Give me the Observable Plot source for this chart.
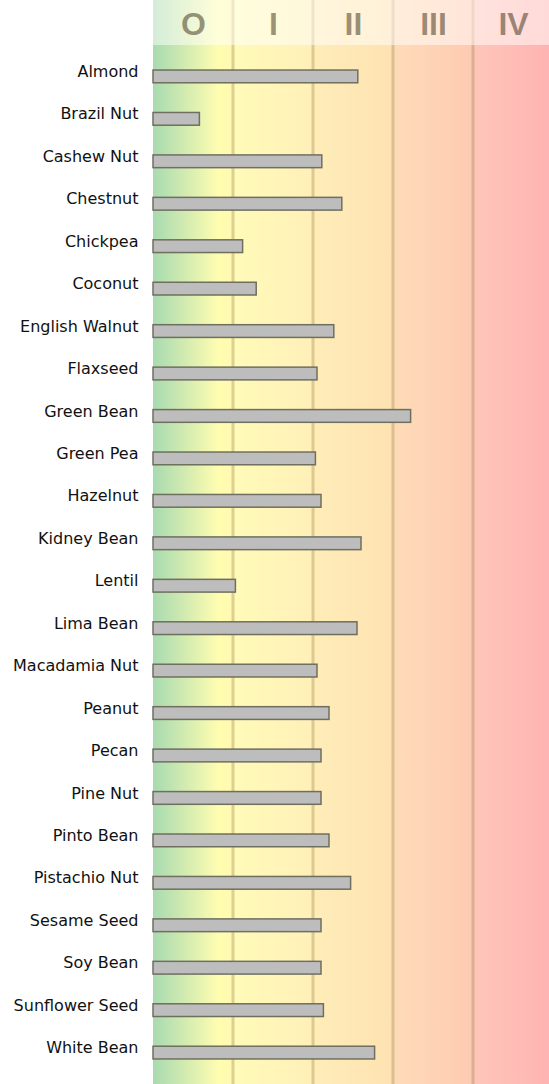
<!DOCTYPE html>
<html>
<head>
<meta charset="utf-8">
<script src="https://cdn.jsdelivr.net/npm/d3@7"></script>
<script src="https://cdn.jsdelivr.net/npm/@observablehq/plot@0.6"></script>
<style>
  html, body { margin: 0; padding: 0; background: #fff; overflow: hidden; }
</style>
</head>
<body>
<div id="chart"></div>
<script>
const foods = ["Almond","Brazil Nut","Cashew Nut","Chestnut","Chickpea","Coconut","English Walnut","Flaxseed","Green Bean","Green Pea","Hazelnut","Kidney Bean","Lentil","Lima Bean","Macadamia Nut","Peanut","Pecan","Pine Nut","Pinto Bean","Pistachio Nut","Sesame Seed","Soy Bean","Sunflower Seed","White Bean"];
const values = [2.56,0.58,2.11,2.36,1.12,1.29,2.26,2.05,3.22,2.03,2.10,2.60,1.03,2.55,2.05,2.20,2.10,2.10,2.20,2.47,2.10,2.10,2.13,2.77];

const zoneNames = ["O","I","II","III","IV"];
const zoneStart = [0,1,2,3,4];
const zoneEnd = [1,2,3,4,5];
const zoneColors = [
  [["0%","#a8dab0"],["82%","#fffdb0"],["100%","#fffab2"]],
  [["0%","#fffbb8"],["100%","#fff0b8"]],
  [["0%","#ffedb8"],["100%","#fee2b2"]],
  [["0%","#fedcb8"],["100%","#fecab2"]],
  [["0%","#fec6ba"],["100%","#feb4b2"]]
];

const data = foods.map((f, i) => ({food: f, value: values[i]}));
const zones = zoneNames.map((n, i) => ({name: n, x1: zoneStart[i], x2: zoneEnd[i], mid: (zoneStart[i] + zoneEnd[i]) / 2}));

const W = 549, H = 1084;

const background = (index, scales, vals, dims) => {
  const g = d3.create("svg:g");
  const defs = g.append("defs");
  zones.forEach((z, i) => {
    const lg = defs.append("linearGradient").attr("id", "zoneGrad" + i)
      .attr("x1", "0").attr("x2", "1").attr("y1", "0").attr("y2", "0");
    zoneColors[i].forEach(([o, c]) => lg.append("stop").attr("offset", o).attr("stop-color", c));
  });
  zones.forEach((z, i) => {
    const a = scales.x(z.x1), b = Math.min(scales.x(z.x2), dims.width);
    g.append("rect").attr("x", a).attr("y", 0).attr("width", b - a).attr("height", dims.height)
      .attr("fill", `url(#zoneGrad${i})`);
  });
  zones.slice(1).forEach(z => {
    g.append("line").attr("x1", scales.x(z.x1)).attr("x2", scales.x(z.x1))
      .attr("y1", 0).attr("y2", dims.height)
      .attr("stroke", "#9a7a4a").attr("stroke-opacity", 0.33).attr("stroke-width", 3);
  });
  return g.node();
};

const header = (index, scales, vals, dims) => {
  const g = d3.create("svg:g");
  const a = scales.x(0);
  g.append("rect").attr("x", a).attr("y", 0).attr("width", dims.width - a).attr("height", dims.marginTop)
    .attr("fill", "#ffffff").attr("fill-opacity", 0.5);
  return g.node();
};

const chart = Plot.plot({
  width: W,
  height: H,
  marginLeft: 153,
  marginRight: 0,
  marginTop: 45,
  marginBottom: 0,
  style: {fontFamily: "DejaVu Sans", fontSize: "16px", background: "transparent"},
  x: {domain: [0, 4.95], axis: null},
  y: {domain: foods, paddingInner: 0.7, paddingOuter: 0.59, round: false, axis: null, label: null},
  marks: [
    background,
    header,
    Plot.barX(data, {x: "value", y: "food", fill: "#bdbdbd", stroke: "#6f6f60", strokeWidth: 1.5}),
    Plot.text(zones, {x: "mid", text: "name", frameAnchor: "top", lineAnchor: "middle", dy: -21, fontSize: 32, fontWeight: "bold",
      fontFamily: "Liberation Sans", fill: "#3a2a10", fillOpacity: 0.5}),
    Plot.axisY({tickSize: 0, tickPadding: 15, dy: -5, fontSize: 16, fontFamily: "DejaVu Sans", fill: "#111", label: null})
  ]
});
document.getElementById("chart").appendChild(chart);
</script>
</body>
</html>
